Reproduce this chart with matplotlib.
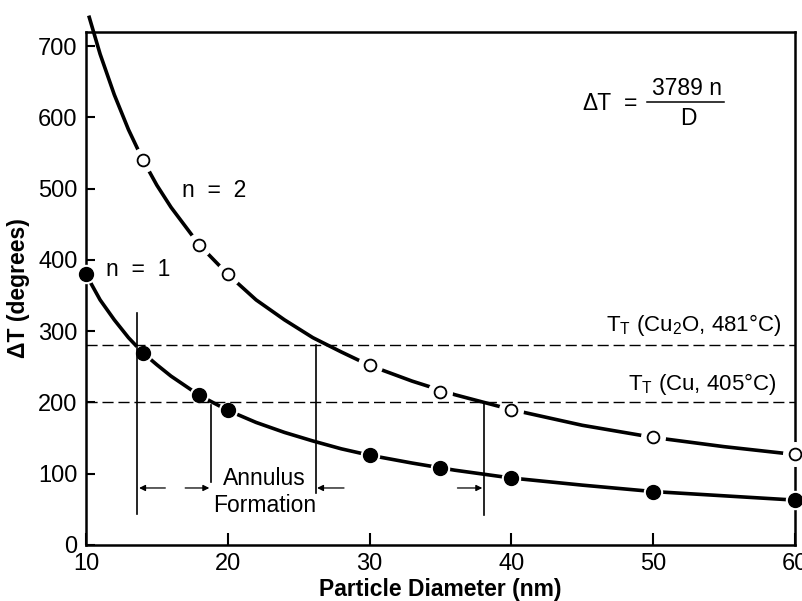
import matplotlib
matplotlib.use('Agg')
import matplotlib.pyplot as plt

plt.rcParams['font.family'] = ['Liberation Sans', 'DejaVu Sans']
plt.rcParams['mathtext.default'] = 'regular'

# measured points (n = 2 open, n = 1 filled)
d_pts2 = [14, 18, 20, 30, 35, 40, 50, 60]
dt_pts2 = [541, 421, 380, 252, 215, 190, 151, 127]
d_pts1 = [10, 14, 18, 20, 30, 35, 40, 50, 60]
dt_pts1 = [380, 270, 210, 189, 126, 108, 94, 75, 63]

# curves
d_curve2 = [10.2, 11, 12, 13, 14, 15, 16, 18, 20, 22, 24, 26, 28, 30, 33, 36, 40, 45, 50, 55, 60]
dt_curve2 = [743, 689, 632, 583, 541, 505, 474, 421, 380, 344, 316, 291, 271, 252, 230, 211, 190, 168, 151, 138, 127]
d_curve1 = [10, 11, 12, 13, 14, 15, 16, 18, 20, 22, 24, 26, 28, 30, 33, 36, 40, 45, 50, 55, 60]
dt_curve1 = [380, 344, 316, 291, 270, 253, 237, 210, 189, 172, 158, 146, 135, 126, 115, 105, 94, 84, 75, 69, 63]

# transition temperatures (horizontal dashed lines)
t_levels = [280, 200]
t_labels = ['T$_T$ (Cu$_2$O, 481°C)', 'T$_T$ (Cu, 405°C)']

# annulus formation markers
v_x = [13.6, 18.8, 26.2, 38.1]
v_bottom = [44, 88, 73, 42]
v_top = [325, 196, 280, 200]
arrow_y = 80
arrows = [(15.6, 13.75), (17.0, 18.7), (28.2, 26.3), (36.2, 37.95)]

xticks = [10, 20, 30, 40, 50, 60]
yticks = [0, 100, 200, 300, 400, 500, 600, 700]

fs = 16.5

fig = plt.figure(figsize=(8.03, 6.01), dpi=100)
ax = fig.add_axes([0.107, 0.0932, 0.883, 0.8536])

# curves, white halos to break the line around markers, then the markers
ax.plot(d_curve2, dt_curve2, color='black', lw=2.6, solid_joinstyle='round',
        solid_capstyle='butt', zorder=2, clip_on=False)
ax.plot(d_curve1, dt_curve1, color='black', lw=2.6, solid_joinstyle='round',
        solid_capstyle='butt', zorder=2)
ax.plot(d_pts2, dt_pts2, ls='none', marker='o', ms=18, mfc='white', mec='none',
        zorder=3, clip_on=False)
ax.plot(d_pts1, dt_pts1, ls='none', marker='o', ms=14, mfc='white', mec='none',
        zorder=3, clip_on=False)

for lvl in t_levels:
    ax.axhline(lvl, color='black', lw=1.0, dashes=(8, 3.5), zorder=3.5)

for x, b, t in zip(v_x, v_bottom, v_top):
    ax.plot([x, x], [b, t], color='black', lw=1.2, zorder=3.5)

for tail, head in arrows:
    ax.annotate('', xy=(head, arrow_y), xytext=(tail, arrow_y),
                arrowprops=dict(arrowstyle='-|>', lw=0.9, color='black',
                                mutation_scale=9, shrinkA=0, shrinkB=0))

ax.plot(d_pts2, dt_pts2, ls='none', marker='o', ms=8.5, mfc='white', mec='black',
        mew=1.3, zorder=4, clip_on=False)
ax.plot(d_pts1, dt_pts1, ls='none', marker='o', ms=10, mfc='black', mec='black',
        zorder=4, clip_on=False)

# annotations
ax.text(16.8, 498, 'n  =  2', fontsize=fs, va='center', ha='left')
ax.text(11.4, 386, 'n  =  1', fontsize=fs, va='center', ha='left')
ax.text(22.6, 94, 'Annulus', fontsize=fs, va='center', ha='center')
ax.text(22.6, 56, 'Formation', fontsize=fs, va='center', ha='center')
ax.text(59.0, 309, t_labels[0], fontsize=16, va='center', ha='right')
ax.text(58.7, 226, t_labels[1], fontsize=16, va='center', ha='right')

ax.text(45.0, 620, 'ΔT', fontsize=fs, va='center', ha='left')
ax.text(48.4, 620, '=', fontsize=fs, va='center', ha='center')
ax.text(52.4, 641, '3789 n', fontsize=fs, va='center', ha='center')
ax.plot([49.6, 55.0], [622, 622], color='black', lw=1.1)
ax.text(52.5, 598, 'D', fontsize=fs, va='center', ha='center')

ax.set_xlim(10, 60)
ax.set_ylim(0, 720)
ax.set_xticks(xticks)
ax.set_yticks(yticks)
ax.tick_params(axis='both', direction='in', labelsize=17, width=1.5)
ax.tick_params(axis='y', length=6.5, pad=6)
ax.tick_params(axis='x', length=8.5, pad=6)
for s in ax.spines.values():
    s.set_linewidth(1.8)

ax.set_xlabel('Particle Diameter (nm)', fontsize=fs, fontweight='bold', labelpad=2)
ax.set_ylabel('ΔT (degrees)', fontsize=fs, fontweight='bold', labelpad=6)

fig.savefig('out.png', dpi=100)
